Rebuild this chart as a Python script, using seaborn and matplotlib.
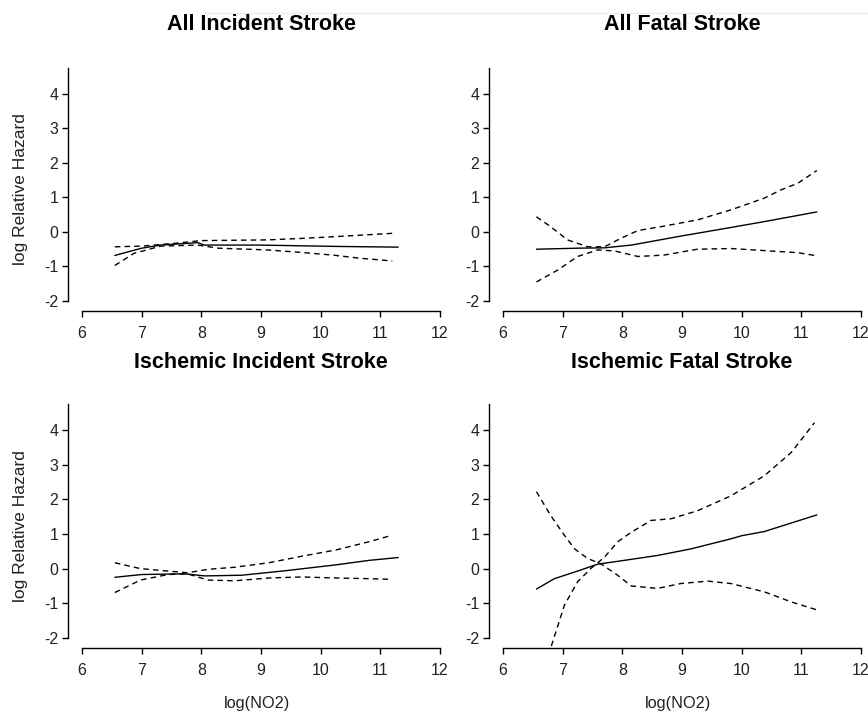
import numpy as np
import pandas as pd
import matplotlib
matplotlib.use("Agg")
import matplotlib.pyplot as plt
import seaborn as sns
from matplotlib.lines import Line2D

sns.set_theme(style="ticks")
plt.rcParams['font.family'] = ['Liberation Sans', 'DejaVu Sans']

# Panel titles
titles = ["All Incident Stroke", "All Fatal Stroke",
          "Ischemic Incident Stroke", "Ischemic Fatal Stroke"]

# All incident stroke
ai_fit_x = [6.55, 7.0, 7.32, 7.94, 8.05, 8.96, 10.3, 11.3]
ai_fit_y = [-0.68, -0.47, -0.38, -0.31, -0.38, -0.38, -0.42, -0.44]
ai_up_x = [6.55, 7.0, 7.55, 8.0, 9.1, 9.65, 10.2, 10.7, 11.2]
ai_up_y = [-0.43, -0.41, -0.33, -0.25, -0.23, -0.19, -0.14, -0.09, -0.04]
ai_lo_x = [6.55, 6.87, 7.32, 7.94, 8.28, 9.1, 9.65, 10.2, 10.65, 11.2]
ai_lo_y = [-0.97, -0.62, -0.41, -0.38, -0.47, -0.52, -0.59, -0.67, -0.76, -0.84]

# All fatal stroke
af_fit_x = [6.56, 7.25, 7.7, 8.15, 8.98, 9.82, 10.38, 11.26]
af_fit_y = [-0.50, -0.47, -0.46, -0.38, -0.12, 0.13, 0.30, 0.58]
af_up_x = [6.56, 6.8, 7.08, 7.42, 7.7, 7.98, 8.26, 8.7, 9.26, 9.82, 10.38, 10.66, 10.94, 11.26]
af_up_y = [0.44, 0.15, -0.23, -0.43, -0.43, -0.18, 0.04, 0.17, 0.35, 0.64, 0.98, 1.22, 1.41, 1.78]
af_lo_x = [6.56, 6.92, 7.25, 7.59, 7.87, 8.26, 8.7, 9.26, 9.82, 10.38, 10.94, 11.26]
af_lo_y = [-1.45, -1.10, -0.71, -0.52, -0.55, -0.71, -0.67, -0.50, -0.48, -0.54, -0.60, -0.69]

# Ischemic incident stroke
ii_fit_x = [6.55, 7.0, 7.72, 8.06, 8.68, 9.41, 10.26, 10.82, 11.3]
ii_fit_y = [-0.25, -0.17, -0.15, -0.21, -0.19, -0.06, 0.11, 0.24, 0.32]
ii_up_x = [6.55, 6.98, 7.44, 7.77, 8.11, 8.56, 9.13, 9.69, 10.26, 10.82, 11.19]
ii_up_y = [0.17, 0.0, -0.07, -0.12, -0.02, 0.04, 0.17, 0.36, 0.54, 0.78, 0.96]
ii_lo_x = [6.55, 6.98, 7.44, 7.77, 8.11, 8.56, 9.13, 9.69, 10.26, 10.82, 11.19]
ii_lo_y = [-0.69, -0.33, -0.17, -0.15, -0.33, -0.35, -0.27, -0.24, -0.27, -0.29, -0.31]

# Ischemic fatal stroke
if_fit_x = [6.56, 6.86, 7.25, 7.59, 7.92, 8.59, 9.15, 9.82, 10.0, 10.38, 11.26]
if_fit_y = [-0.59, -0.29, -0.07, 0.13, 0.21, 0.38, 0.57, 0.86, 0.95, 1.07, 1.55]
if_up_x = [6.76, 7.03, 7.25, 7.47, 7.7, 7.92, 8.15, 8.48, 8.82, 9.26, 9.82, 10.38, 10.83, 11.22]
if_up_y = [-2.5, -1.05, -0.38, 0.0, 0.33, 0.77, 1.05, 1.39, 1.44, 1.67, 2.1, 2.68, 3.35, 4.21]
if_lo_x = [6.56, 6.8, 7.03, 7.2, 7.42, 7.64, 7.92, 8.15, 8.59, 8.98, 9.43, 9.82, 10.38, 10.83, 11.26]
if_lo_y = [2.22, 1.53, 0.96, 0.57, 0.29, 0.14, -0.19, -0.5, -0.57, -0.43, -0.36, -0.43, -0.67, -0.96, -1.19]

panels = [
    (ai_fit_x, ai_fit_y, ai_up_x, ai_up_y, ai_lo_x, ai_lo_y),
    (af_fit_x, af_fit_y, af_up_x, af_up_y, af_lo_x, af_lo_y),
    (ii_fit_x, ii_fit_y, ii_up_x, ii_up_y, ii_lo_x, ii_lo_y),
    (if_fit_x, if_fit_y, if_up_x, if_up_y, if_lo_x, if_lo_y),
]

xticks = [6, 7, 8, 9, 10, 11, 12]
yticks = [-2, -1, 0, 1, 2, 3, 4]

W, H = 868, 715
fig = plt.figure(figsize=(W / 100, H / 100), dpi=100)

# axes boxes in pixels: left, top, right, bottom
boxes = [(68, 68, 440, 311), (489, 68, 861, 311),
         (68, 404, 440, 648), (489, 404, 861, 648)]
title_y = [25, 25, 362, 362]

for i, (box, data) in enumerate(zip(boxes, panels)):
    l, t, r, b = box
    ax = fig.add_axes([l / W, 1 - b / H, (r - l) / W, (b - t) / H])
    fx, fy, ux, uy, lx, ly = data
    sns.lineplot(x=fx, y=fy, ax=ax, color="black", linewidth=1.0, estimator=None)
    sns.lineplot(x=ux, y=uy, ax=ax, color="black", linewidth=1.0, estimator=None,
                 linestyle=(0, (4, 3)))
    sns.lineplot(x=lx, y=ly, ax=ax, color="black", linewidth=1.0, estimator=None,
                 linestyle=(0, (4, 3)))

    ax.set_xlim(5.765, 12.0)
    ax.set_ylim(-2.29, 4.75)
    ax.set_xticks(xticks)
    ax.set_yticks(yticks)
    ax.set_xticklabels([str(v) for v in xticks])
    ax.set_yticklabels([str(v) for v in yticks])
    ax.spines['top'].set_visible(False)
    ax.spines['right'].set_visible(False)
    ax.spines['left'].set_bounds(-2, 4.75)
    ax.spines['bottom'].set_bounds(6, 12)
    for s in ['left', 'bottom']:
        ax.spines[s].set_color("black")
        ax.spines[s].set_linewidth(1.0)
    ax.tick_params(axis='both', direction='out', length=4, width=1.0,
                   color='black', labelsize=11.5, labelcolor='#222222')
    ax.tick_params(axis='x', pad=7)
    ax.tick_params(axis='y', pad=3)
    ax.patch.set_alpha(0)

    if i in (0, 2):
        ax.set_ylabel("log Relative Hazard", fontsize=12.5, color='#222222')
        ax.yaxis.set_label_coords(-0.108, 0.5)
    else:
        ax.set_ylabel("")
    if i in (2, 3):
        ax.set_xlabel("log(NO2)", fontsize=11.7, color='#222222')
        ax.xaxis.set_label_coords(0.507, -0.198)
    else:
        ax.set_xlabel("")

    cx = (l + (r - l) * (6 - 5.765) / (12 - 5.765) + r) / 2
    fig.text(cx / W, 1 - title_y[i] / H, titles[i], ha='center', va='center',
             fontsize=15.5, fontweight='bold', color='black')

# faint line at top of the original screenshot
fig.add_artist(Line2D([205 / W, 1.0], [1 - 13 / H, 1 - 13 / H],
                      transform=fig.transFigure, color='#ececec', linewidth=1))

fig.savefig("out.png", dpi=100)
